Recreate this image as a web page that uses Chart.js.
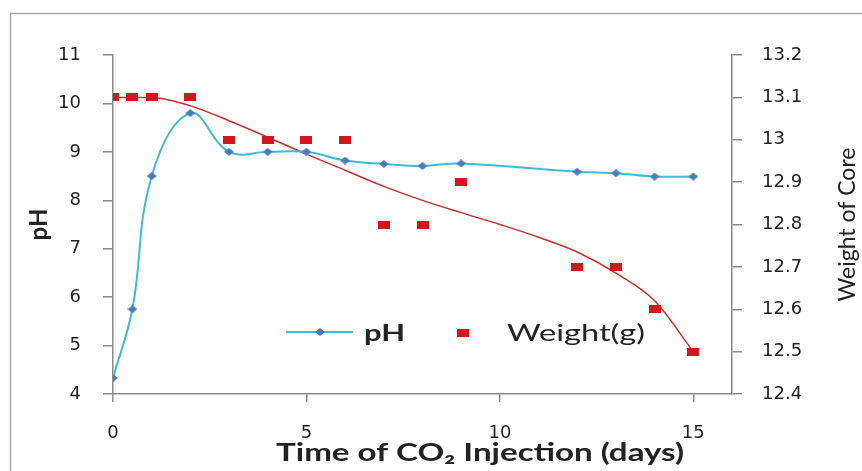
<!DOCTYPE html>
<html>
<head>
<meta charset="utf-8">
<script src="https://cdn.jsdelivr.net/npm/chart.js@4.4.1/dist/chart.umd.min.js"></script>
<style>
  html, body { margin: 0; padding: 0; background: #ffffff; }
  #wrap { width: 862px; height: 471px; position: relative; }
</style>
</head>
<body>
<div id="wrap"><canvas id="c"></canvas></div>
<script>
// ---- data ----
const days = [0, 0.5, 1, 2, 3, 4, 5, 6, 7, 8, 9, 12, 13, 14, 15];
const phValues = [4.33, 5.75, 8.5, 9.8, 9.0, 9.0, 9.0, 8.82, 8.75, 8.71, 8.76, 8.59, 8.56, 8.49, 8.49];
const weightValues = [13.1, 13.1, 13.1, 13.1, 13.0, 13.0, 13.0, 13.0, 12.8, 12.8, 12.9, 12.7, 12.7, 12.6, 12.5];
// red trend curve
const trendDays = [0, 1, 2, 3, 4, 5, 6, 7, 8, 9, 10, 11, 12, 13, 14, 15];
const trendWeight = [13.10, 13.10, 13.08, 13.045, 13.006, 12.966, 12.928, 12.89, 12.857, 12.828, 12.80, 12.77, 12.735, 12.685, 12.62, 12.50];
const xTicks = [0, 5, 10, 15];
const phTicks = [4, 5, 6, 7, 8, 9, 10, 11];
const weightTicks = [12.4, 12.5, 12.6, 12.7, 12.8, 12.9, 13, 13.1, 13.2];
const seriesNames = ['pH', 'Weight(g)'];
const xTitle = 'Time of CO\u2082 Injection (days)';
const yTitle = 'pH';
const y2Title = 'Weight of Core';

// ---- styles ----
const PH_LINE = '#3fbad9';
const PH_MARK = '#4a7db6';
const W_MARK = '#d3151c';
const TREND = '#c9302c';
const AXIS = '#8a8a8a';
const TXT = '#222222';

function makeSquare(w, h, color) {
  const cv = document.createElement('canvas');
  cv.width = w; cv.height = h;
  const g = cv.getContext('2d');
  g.fillStyle = color; g.fillRect(0, 0, w, h);
  return cv;
}
function makeDiamond(w, h, color) {
  const cv = document.createElement('canvas');
  cv.width = w; cv.height = h;
  const g = cv.getContext('2d');
  g.fillStyle = color;
  g.beginPath();
  g.moveTo(w / 2, 0); g.lineTo(w, h / 2); g.lineTo(w / 2, h); g.lineTo(0, h / 2);
  g.closePath(); g.fill();
  return cv;
}
const squareImg = makeSquare(12, 8, W_MARK);
const diamondImg = makeDiamond(10, 8, PH_MARK);

function stretchedText(ctx, text, x, y, targetW, align) {
  const w = ctx.measureText(text).width;
  const sx = targetW / w;
  ctx.save();
  ctx.translate(x, y);
  ctx.scale(sx, 1);
  ctx.textAlign = align;
  ctx.fillText(text, 0, 0);
  ctx.restore();
}

const framePlugin = {
  id: 'frame',
  beforeDraw(chart) {
    const ctx = chart.ctx;
    ctx.save();
    ctx.fillStyle = '#ffffff';
    ctx.fillRect(0, 0, chart.width, chart.height);
    ctx.strokeStyle = '#a6a6a6';
    ctx.lineWidth = 1.5;
    ctx.strokeRect(10.5, 13.5, chart.width + 20, chart.height + 20);
    ctx.restore();
  }
};

const legendPlugin = {
  id: 'insideLegend',
  afterDatasetsDraw(chart) {
    const ctx = chart.ctx;
    ctx.save();
    // pH entry
    ctx.strokeStyle = PH_LINE;
    ctx.lineWidth = 2;
    ctx.beginPath(); ctx.moveTo(286, 332); ctx.lineTo(353, 332); ctx.stroke();
    ctx.drawImage(diamondImg, 320 - 5, 332 - 4);
    ctx.fillStyle = TXT;
    ctx.textBaseline = 'alphabetic';
    ctx.font = 'bold 23px Lato';
    stretchedText(ctx, seriesNames[0], 364, 341, 41, 'left');
    // Weight entry
    ctx.drawImage(squareImg, 463 - 6, 333 - 4);
    ctx.font = '23px Lato';
    stretchedText(ctx, seriesNames[1], 507, 341, 138, 'left');
    ctx.restore();
  }
};

const titlesPlugin = {
  id: 'axisTitles',
  afterDraw(chart) {
    const ctx = chart.ctx;
    const area = chart.chartArea;
    ctx.save();
    ctx.fillStyle = TXT;
    // x title
    ctx.font = 'bold 24px Lato';
    ctx.textBaseline = 'alphabetic';
    stretchedText(ctx, xTitle, 480, 461, 408, 'center');
    // right title, reading bottom to top
    ctx.translate(848, (area.top + area.bottom) / 2);
    ctx.rotate(-Math.PI / 2);
    ctx.font = '23px Lato';
    ctx.textAlign = 'center';
    ctx.textBaseline = 'middle';
    ctx.fillText(y2Title, 0, 0);
    ctx.restore();
  }
};

const tickFont = { family: 'DejaVu Sans', size: 18 };

new Chart(document.getElementById('c'), {
  data: {
    datasets: [
      {
        type: 'line',
        label: seriesNames[0],
        data: days.map((d, i) => ({ x: d, y: phValues[i] })),
        yAxisID: 'y',
        borderColor: PH_LINE,
        borderWidth: 2,
        tension: 0.4,
        pointStyle: diamondImg,
        pointRadius: 5,
        order: 1
      },
      {
        type: 'line',
        label: 'trend',
        data: trendDays.map((d, i) => ({ x: d, y: trendWeight[i] })),
        yAxisID: 'y2',
        borderColor: TREND,
        borderWidth: 1.5,
        cubicInterpolationMode: 'monotone',
        pointRadius: 0,
        order: 3
      },
      {
        type: 'scatter',
        label: seriesNames[1],
        data: days.map((d, i) => ({ x: d, y: weightValues[i] })),
        yAxisID: 'y2',
        pointStyle: squareImg,
        pointRadius: 6,
        order: 2
      }
    ]
  },
  options: {
    responsive: true,
    maintainAspectRatio: false,
    animation: false,
    events: [],
    layout: { padding: { top: 55, left: 0, right: 0, bottom: 0 } },
    plugins: { legend: { display: false }, tooltip: { enabled: false } },
    scales: {
      x: {
        type: 'linear',
        position: 'bottom',
        min: 0,
        max: 16,
        afterBuildTicks: s => { s.ticks = xTicks.map(v => ({ value: v })); },
        afterFit: s => { s.height = 77; },
        ticks: { font: tickFont, color: TXT, padding: 21, callback: v => String(v), maxRotation: 0 },
        grid: { drawOnChartArea: false, drawTicks: true, tickLength: 8, color: AXIS, lineWidth: 1.5 },
        border: { color: AXIS, width: 1.5 }
      },
      y: {
        type: 'linear',
        position: 'left',
        min: 4,
        max: 11,
        afterBuildTicks: s => { s.ticks = phTicks.map(v => ({ value: v })); },
        afterFit: s => { s.width = 113; },
        ticks: { font: tickFont, color: TXT, padding: 22, callback: v => String(v) },
        grid: { drawOnChartArea: false, drawTicks: true, tickLength: 10, color: AXIS, lineWidth: 1.5 },
        border: { color: AXIS, width: 1.5 },
        title: { display: true, text: yTitle, color: TXT, font: { family: 'Lato', size: 24, weight: 'bold' }, padding: { top: 25, bottom: 0 } }
      },
      y2: {
        type: 'linear',
        position: 'right',
        min: 12.4,
        max: 13.2,
        afterBuildTicks: s => { s.ticks = weightTicks.map(v => ({ value: v })); },
        afterFit: s => { s.width = 130; },
        ticks: { font: tickFont, color: TXT, padding: 20, callback: v => String(v) },
        grid: { drawOnChartArea: false, drawTicks: true, tickLength: 10, color: AXIS, lineWidth: 1.5 },
        border: { color: AXIS, width: 1.5 }
      }
    }
  },
  plugins: [framePlugin, legendPlugin, titlesPlugin]
});
</script>
</body>
</html>
